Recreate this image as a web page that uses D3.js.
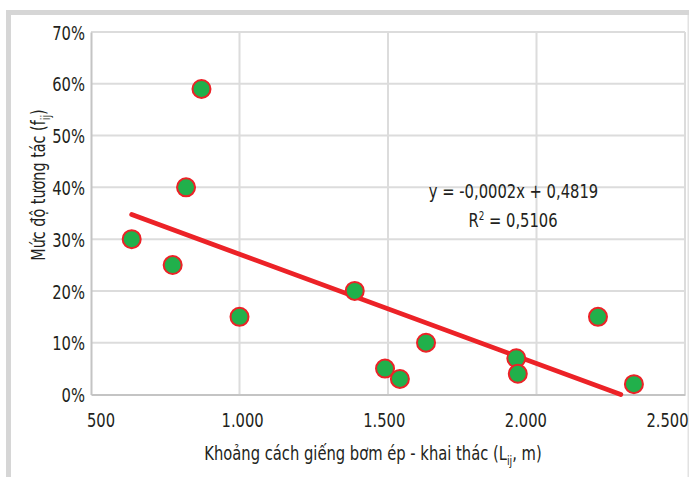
<!DOCTYPE html>
<html>
<head>
<meta charset="utf-8">
<script src="https://cdn.jsdelivr.net/npm/d3@7"></script>
<style>
  body { margin: 0; background: #fff; }
  text { font-family: "Liberation Sans Narrow", "DejaVu Sans Condensed", "Arial Narrow", sans-serif; fill: #231f20; }
</style>
</head>
<body>
<div id="chart"></div>
<script>
// khoảng cách giếng (m) và mức độ tương tác
const distance = [637, 775, 820, 872, 1000, 1388, 1490, 1540, 1628, 1932, 1937, 2207, 2328];
const interaction = [0.30, 0.25, 0.40, 0.59, 0.15, 0.20, 0.05, 0.03, 0.10, 0.07, 0.04, 0.15, 0.02];

const xTicks = [500, 1000, 1500, 2000, 2500];
const xTickLabels = ["500", "1.000", "1.500", "2.000", "2.500"];
const yTicks = [0, 0.1, 0.2, 0.3, 0.4, 0.5, 0.6, 0.7];
const yTickLabels = ["0%", "10%", "20%", "30%", "40%", "50%", "60%", "70%"];

// trendline coefficients (Excel)
const slope = -0.000211;
const intercept = 0.4819;

const W = 689, H = 477;
const margin = { top: 32, right: 4, bottom: 82.5, left: 91 };
const width = W - margin.left - margin.right;
const height = H - margin.top - margin.bottom;
const squeeze = 0.82; // condensed look

const svg = d3.select("#chart").append("svg")
    .attr("width", W)
    .attr("height", H);

// outer frame
svg.append("rect").attr("x", 6).attr("y", 10).attr("width", W - 6).attr("height", 5).attr("fill", "#d6d6d6");
svg.append("rect").attr("x", 6).attr("y", 10).attr("width", 5).attr("height", H - 10).attr("fill", "#d6d6d6");
svg.append("rect").attr("x", 687.5).attr("y", 15).attr("width", 1.5).attr("height", H - 15).attr("fill", "#e2e2e2");

const g = svg.append("g").attr("transform", `translate(${margin.left},${margin.top})`);

const x = d3.scaleLinear().domain([500, 2500]).range([0, width]);
const y = d3.scaleLinear().domain([0, 0.7]).range([height, 0]);
// tick labels sit slightly tighter than the gridlines in the original
const xLabel = d3.scaleLinear().domain([500, 2500]).range([9.5, 576]);

// gridlines
g.selectAll(".hgrid").data(yTicks.slice(1)).enter().append("line")
    .attr("x1", 0).attr("x2", width)
    .attr("y1", d => y(d)).attr("y2", d => y(d))
    .attr("stroke", "#dcdcdc").attr("stroke-width", 2);
g.selectAll(".vgrid").data(xTicks.slice(1)).enter().append("line")
    .attr("y1", 0).attr("y2", height)
    .attr("x1", d => x(d)).attr("x2", d => x(d))
    .attr("stroke", "#dcdcdc").attr("stroke-width", 2);

// axes
const xAxis = g.append("g")
    .attr("transform", `translate(0,${height})`)
    .call(d3.axisBottom(x).tickValues(xTicks).tickSize(0)
        .tickFormat((d, i) => xTickLabels[i]));
const yAxis = g.append("g")
    .call(d3.axisLeft(y).tickValues(yTicks).tickSize(0)
        .tickFormat((d, i) => yTickLabels[i]));
[xAxis, yAxis].forEach(a => {
    a.select(".domain").attr("stroke", "#c4c4c4").attr("stroke-width", 2);
    a.selectAll("text").style("font-size", "20px").attr("fill", "#231f20")
        .attr("transform", `scale(${squeeze},1)`);
});
yAxis.selectAll("text").attr("x", -6 / squeeze).attr("dy", "0.36em");
xAxis.selectAll("text")
    .attr("x", d => (xLabel(d) - x(d)) / squeeze)
    .attr("y", 32.5).attr("dy", 0);

// trendline
const xEnd = Math.min(d3.max(distance), -intercept / slope);
const trend = [d3.min(distance), xEnd].map(v => [v, slope * v + intercept]);
g.append("path")
    .datum(trend)
    .attr("d", d3.line().x(d => x(d[0])).y(d => y(d[1])))
    .attr("stroke", "#ec2227")
    .attr("stroke-width", 4.8)
    .attr("stroke-linecap", "round")
    .attr("fill", "none");

// points
g.selectAll(".dot").data(distance).enter().append("circle")
    .attr("cx", d => x(d))
    .attr("cy", (d, i) => y(interaction[i]))
    .attr("r", 9)
    .attr("fill", "#21b04b")
    .attr("stroke", "#ec2227")
    .attr("stroke-width", 2);

function label(parent, tx, ty, size, rot, k) {
    return parent.append("g")
        .attr("transform", `translate(${tx},${ty}) rotate(${rot}) scale(${k},1)`)
        .append("text")
        .attr("text-anchor", "middle")
        .style("font-size", size + "px");
}

// equation
label(svg, 513.5, 198, 20, 0, squeeze).text("y = -0,0002x + 0,4819");
const r2 = label(svg, 513, 227, 20, 0, squeeze);
r2.append("tspan").text("R");
r2.append("tspan").attr("dy", -7).style("font-size", "12px").text("2");
r2.append("tspan").attr("dy", 7).text(" = 0,5106");

// axis titles
const xt = label(svg, 373, 460, 20, 0, squeeze);
xt.append("tspan").text("Khoảng cách giếng bơm ép - khai thác (L");
xt.append("tspan").attr("dy", 5).style("font-size", "13px").text("ij");
xt.append("tspan").attr("dy", -5).text(", m)");

const yt = label(svg, 45, 185, 19.5, -90, squeeze);
yt.append("tspan").text("Mức độ tương tác (f");
yt.append("tspan").attr("dy", 5).style("font-size", "13px").text("ij");
yt.append("tspan").attr("dy", -5).text(")");
</script>
</body>
</html>
